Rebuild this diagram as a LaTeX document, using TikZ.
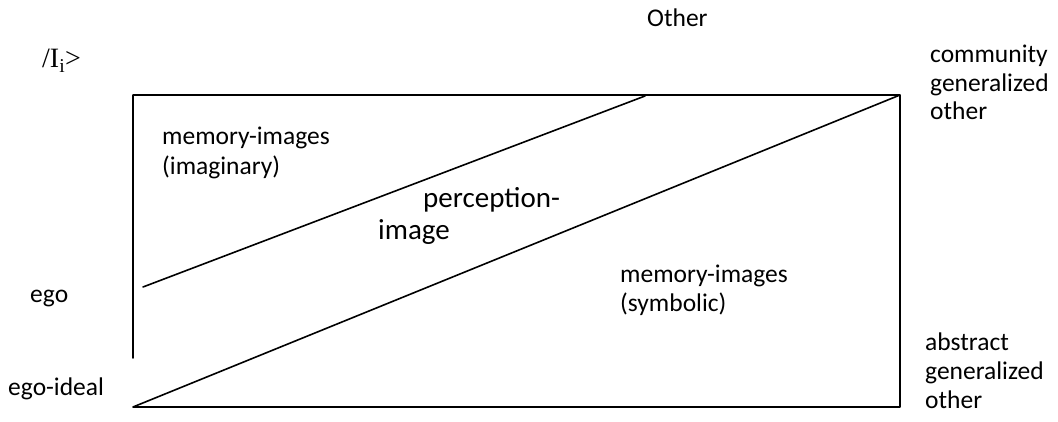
\documentclass[tikz,border=0pt]{standalone}
\usepackage{fontspec}
\setmainfont{Carlito}
\newfontfamily\timesfont{Liberation Serif}
\begin{document}
\begin{tikzpicture}[x=1pt, y=-1pt, line cap=round, line join=round,
		lbl/.style={anchor=base west, inner sep=0pt, align=left, font=\fontsize{25.5}{29}\selectfont},
		biglbl/.style={lbl, font=\fontsize{29}{32}\selectfont},
		frame/.style={line width=1.6pt}]
	\useasboundingbox (0,0) rectangle (1058,422);
	\coordinate (tl) at (133,95);
	\coordinate (tr) at (900,95);
	\coordinate (br) at (900,407);
	\coordinate (bl) at (133,407);
	\coordinate (lend) at (133,358);
	\coordinate (ustart) at (143,287);
	\coordinate (uend) at (645,96);
	\draw[frame] (lend) -- (tl) -- (tr) -- (br) -- (bl) -- (tr);
	\draw[frame] (ustart) -- (uend);
	% multi-line labels sit on the baseline of their last line
	\node[lbl] (other) at (647,27) {Other};
	\node[lbl, font=\timesfont\fontsize{28}{32}\selectfont] (ii) at (42,68) {/I\textsubscript{i}>};
	\node[lbl, font=\fontsize{25.5}{28.5}\selectfont] (comm) at (930,120) {community\\generalized\\other};
	\node[lbl] (abstr) at (925,408) {abstract\\generalized\\other};
	\node[lbl] (ego) at (30,302) {ego};
	\node[lbl] (egoideal) at (8,395) {ego-ideal};
	\node[lbl, font=\fontsize{25.5}{30}\selectfont] (imag) at (162,175) {memory-images\\(imaginary)};
	\node[biglbl] (perc) at (423,208) {perception-};
	\node[biglbl] (percimg) at (378,240) {image};
	\node[lbl] (symb) at (620,312) {memory-images\\(symbolic)};
\end{tikzpicture}
\end{document}
